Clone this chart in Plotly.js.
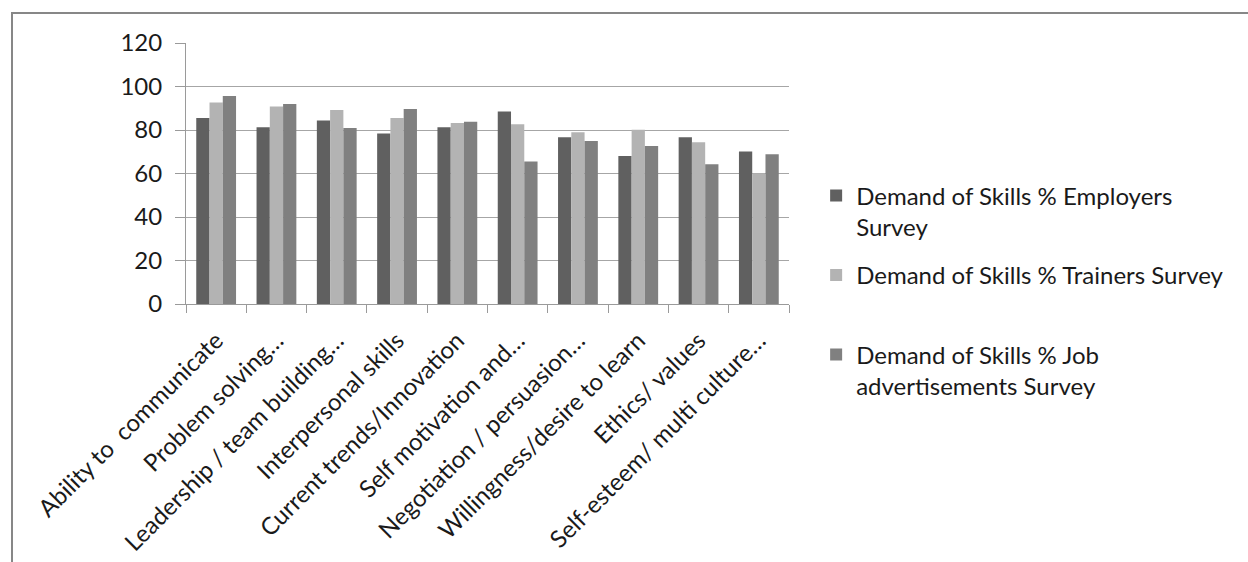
<!DOCTYPE html>
<html>
<head>
<meta charset="utf-8">
<script src="https://cdn.plot.ly/plotly-3.0.1.min.js"></script>
<style>
  html, body { margin: 0; padding: 0; background: #fff; }
  #wrap { position: relative; width: 1248px; height: 562px; }
  #chart { width: 1248px; height: 562px; }
  #frame { position: absolute; left: 11px; top: 12px; right: 0; bottom: 0;
           border-left: 2px solid #878787; border-top: 2px solid #878787; pointer-events: none; }
</style>
</head>
<body>
<div id="wrap">
  <div id="chart"></div>
  <div id="frame"></div>
</div>
<script>
const categories = [
  "Ability to  communicate",
  "Problem solving\u2026",
  "Leadership / team building\u2026",
  "Interpersonal skills",
  "Current trends/Innovation",
  "Self motivation and\u2026",
  "Negotiation / persuasion\u2026",
  "Willingness/desire to learn",
  "Ethics/ values",
  "Self-esteem/ multi culture\u2026"
];
const employers = [85.5, 81.3, 84.4, 78.4, 81.3, 88.5, 76.7, 68.0, 76.7, 70.1];
const trainers  = [92.7, 90.8, 89.2, 85.5, 83.2, 82.6, 79.0, 80.1, 74.4, 60.0];
const jobAds    = [95.6, 91.9, 80.9, 89.6, 83.8, 65.5, 74.9, 72.6, 64.3, 68.9];
const seriesNames = [
  "Demand of Skills % Employers<br>Survey",
  "Demand of Skills % Trainers Survey<br> ",
  "Demand of Skills % Job<br>advertisements Survey"
];
const yTicks = [0, 20, 40, 60, 80, 100, 120];

const colors = ["#606060", "#b3b3b3", "#808080"];
const FONT = "Lato, 'Noto Sans', sans-serif";

const traces = [employers, trainers, jobAds].map((vals, i) => ({
  type: "bar",
  x: categories,
  y: vals,
  name: seriesNames[i],
  legendgroup: "g" + i,
  marker: { color: colors[i], line: { width: 0 } },
  hoverinfo: "x+y"
}));

const layout = {
  width: 1248,
  height: 562,
  margin: { l: 186, r: 459, t: 43, b: 258 },
  paper_bgcolor: "#ffffff",
  plot_bgcolor: "#ffffff",
  barmode: "group",
  bargap: 0.34,
  bargroupgap: 0,
  font: { family: FONT, color: "#1a1a1a" },
  xaxis: {
    type: "category",
    tickangle: -45,
    tickson: "boundaries",
    ticks: "outside",
    ticklen: 8,
    tickcolor: "#9a9a9a",
    showline: true,
    linecolor: "#9a9a9a",
    linewidth: 1,
    showgrid: false,
    tickfont: { family: FONT, size: 24, color: "#1a1a1a" },
    ticklabelstandoff: 12
  },
  yaxis: {
    range: [0, 120],
    tickvals: yTicks,
    ticktext: yTicks.map(String),
    ticks: "outside",
    ticklen: 10,
    tickcolor: "#9a9a9a",
    showline: true,
    linecolor: "#9a9a9a",
    linewidth: 1,
    showgrid: true,
    gridcolor: "#a6a6a6",
    gridwidth: 1,
    zeroline: false,
    tickfont: { family: FONT, size: 24, color: "#1a1a1a" },
    ticklabelstandoff: 8
  },
  showlegend: true,
  legend: {
    x: 1.045,
    xanchor: "left",
    y: 0.5,
    yanchor: "top",
    valign: "top",
    traceorder: "grouped",
    tracegroupgap: 14,
    font: { family: FONT, size: 24, color: "#1a1a1a" },
    bgcolor: "rgba(0,0,0,0)"
  }
};

Plotly.newPlot("chart", traces, layout, { displayModeBar: false, staticPlot: true });
</script>
</body>
</html>
